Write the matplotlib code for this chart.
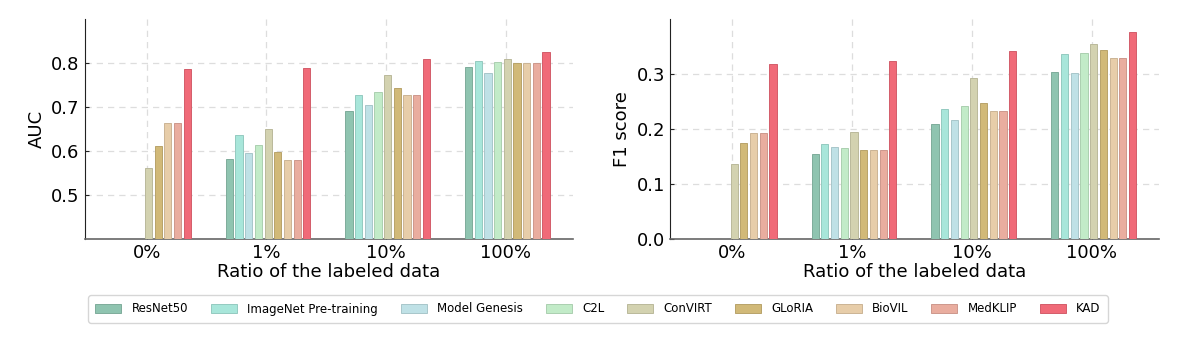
import matplotlib.pyplot as plt
import numpy as np

# data
ratios = ["0%", "1%", "10%", "100%"]
methods = ["ResNet50", "ImageNet Pre-training", "Model Genesis", "C2L", "ConVIRT",
           "GLoRIA", "BioVIL", "MedKLIP", "KAD"]
colors = ["#8fc4b0", "#a8e6da", "#bfe1e6", "#c2ebc8", "#d3d2b0",
          "#d1b978", "#e7cda9", "#e9ad9f", "#f06a78"]

# rows = methods, columns = ratios (nan = not reported)
auc = [
    [np.nan, 0.582, 0.692, 0.791],
    [np.nan, 0.636, 0.727, 0.805],
    [np.nan, 0.596, 0.704, 0.778],
    [np.nan, 0.614, 0.733, 0.802],
    [0.561, 0.650, 0.772, 0.809],
    [0.611, 0.598, 0.744, 0.800],
    [0.663, 0.580, 0.728, 0.800],
    [0.663, 0.580, 0.728, 0.800],
    [0.787, 0.788, 0.808, 0.826],
]
f1 = [
    [np.nan, 0.155, 0.210, 0.304],
    [np.nan, 0.172, 0.236, 0.336],
    [np.nan, 0.168, 0.216, 0.301],
    [np.nan, 0.165, 0.241, 0.339],
    [0.136, 0.195, 0.292, 0.354],
    [0.175, 0.162, 0.248, 0.344],
    [0.193, 0.162, 0.233, 0.329],
    [0.193, 0.162, 0.233, 0.329],
    [0.319, 0.324, 0.341, 0.376],
]


def darker(c, f=0.88):
    r, g, b = [int(c[i:i + 2], 16) / 255 for i in (1, 3, 5)]
    return (r * f, g * f, b * f)


fig = plt.figure(figsize=(11.87, 3.41), dpi=100)
ax1 = fig.add_axes([84.5 / 1187, 1 - 239 / 341, 488 / 1187, 220 / 341])
ax2 = fig.add_axes([670 / 1187, 1 - 239 / 341, 489 / 1187, 220 / 341])

x = np.arange(len(ratios))
step = 0.081
width = 0.06

for ax, data, ylab, ylim, yticks in [
    (ax1, auc, "AUC", (0.4, 0.9), [0.5, 0.6, 0.7, 0.8]),
    (ax2, f1, "F1 score", (0.0, 0.4), [0.0, 0.1, 0.2, 0.3]),
]:
    for i, (m, c) in enumerate(zip(methods, colors)):
        vals = np.array(data[i])
        ax.bar(x + (i - 4) * step + 0.015, vals, width, color=c,
               edgecolor=darker(c), linewidth=0.7, label=m, zorder=3)
    ax.set_xlim(-0.52, 3.56)
    ax.set_ylim(*ylim)
    ax.set_xticks(x)
    ax.set_xticklabels(ratios)
    ax.set_yticks(yticks)
    ax.tick_params(direction="in", labelsize=13, length=3, color="#222222")
    ax.set_xlabel("Ratio of the labeled data", fontsize=13, labelpad=1)
    ax.set_ylabel(ylab, fontsize=13, labelpad=4)
    ax.grid(True, linestyle=(0, (5, 4)), color="#dddddd", linewidth=0.9, zorder=0)
    ax.spines["top"].set_visible(False)
    ax.spines["right"].set_visible(False)
    ax.spines["left"].set_color("#222222")
    ax.spines["bottom"].set_color("#666666")
    ax.spines["bottom"].set_linewidth(1.2)

handles, labels = ax1.get_legend_handles_labels()
fig.legend(handles, labels, loc="center", ncol=9, fontsize=8.5,
           bbox_to_anchor=(598 / 1187, 1 - 309 / 341),
           frameon=True, fancybox=True, edgecolor="#cccccc",
           handlelength=2.2, handleheight=0.8, columnspacing=1.9,
           handletextpad=0.9, borderpad=0.6)

fig.savefig("out.png", dpi=100)
